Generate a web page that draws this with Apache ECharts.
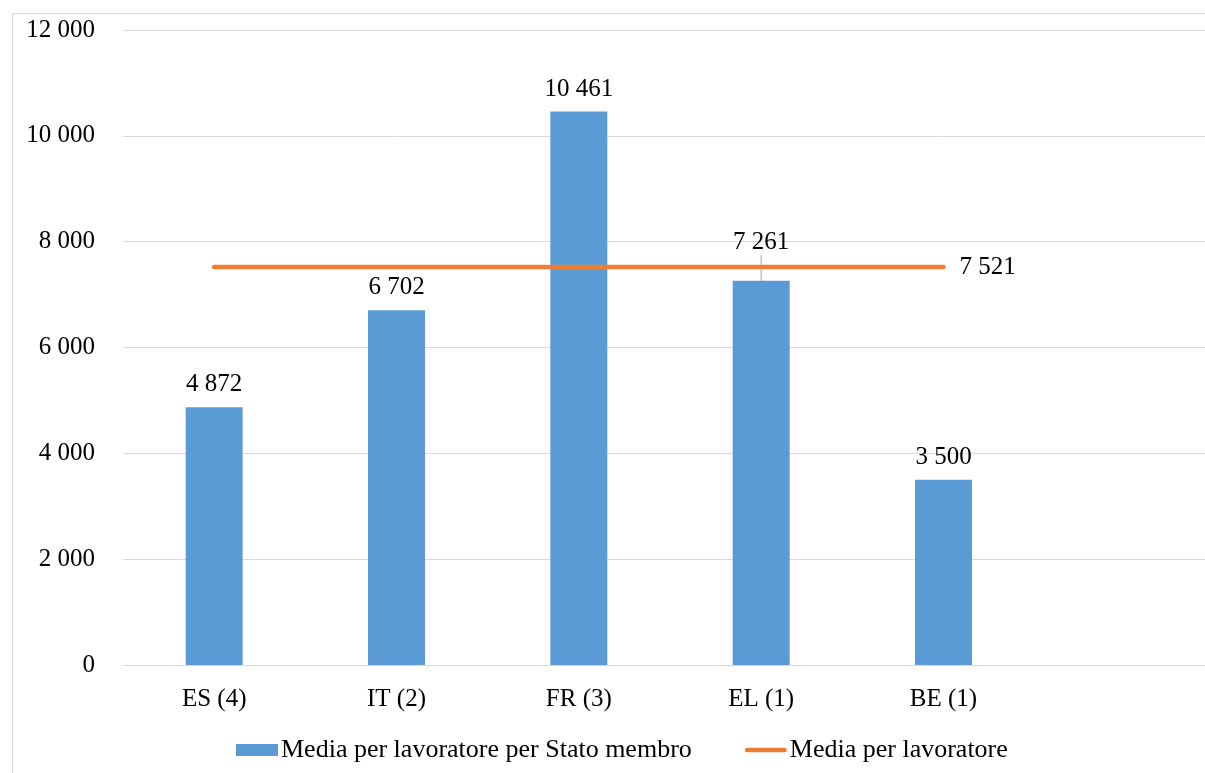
<!DOCTYPE html>
<html>
<head>
<meta charset="utf-8">
<script src="https://cdn.jsdelivr.net/npm/echarts@6/dist/echarts.min.js"></script>
<style>
  html, body { margin: 0; padding: 0; background: #fff; overflow: hidden; }
  #chart { width: 1217px; height: 773px; }
</style>
</head>
<body>
<div id="chart"></div>
<script>
// Member states (number of workers in brackets); the last slot is left empty
const categories = ['ES (4)', 'IT (2)', 'FR (3)', 'EL (1)', 'BE (1)', ''];
// Average per worker, by member state
const memberAvg = [4872, 6702, 10461, 7261, 3500];
// Overall average per worker
const overallAvg = [7521, 7521, 7521, 7521, 7521];
// Value axis
const yMin = 0;
const yMax = 12000;
const yStep = 2000;

const FONT = "'Liberation Serif', 'Times New Roman', serif";
const fmt = v => String(v).replace(/\B(?=(\d{3})+(?!\d))/g, ' ');

// EL label sits above the average line, tied to its bar by a leader line
const barData = memberAvg.map((v, i) => i === 3
  ? { value: v, labelLine: { show: true, lineStyle: { color: '#a6a6a6', width: 1 } } }
  : v);

const chart = echarts.init(document.getElementById('chart'), null, { renderer: 'canvas' });

chart.setOption({
  backgroundColor: '#ffffff',
  animation: false,
  textStyle: { fontFamily: FONT, color: '#000' },
  graphic: [{
    type: 'rect',
    left: 10, top: 11,
    shape: { width: 1230, height: 800 },
    style: { fill: 'none', stroke: '#d9d9d9', lineWidth: 1 },
    silent: true,
    z: -1
  }],
  grid: { left: 123, top: 30, right: 0, height: 635 },
  legend: {
    left: 231, top: 732,
    itemWidth: 42, itemHeight: 12, itemGap: 53,
    textStyle: { fontFamily: FONT, fontSize: 26, color: '#000', padding: [0, 0, 0, -2] },
    data: [
      { name: 'Media per lavoratore per Stato membro', icon: 'rect' },
      {
        name: 'Media per lavoratore',
        icon: 'path://M0,0 M46,12 M2.5,3.5 L43.5,3.5 A2.5,2.5 0 0 1 43.5,8.5 L2.5,8.5 A2.5,2.5 0 0 1 2.5,3.5 Z',
        itemStyle: { color: '#ed7d31' }
      }
    ]
  },
  xAxis: {
    type: 'category',
    data: categories,
    axisLine: { lineStyle: { color: '#d9d9d9', width: 1 } },
    axisTick: { show: false },
    axisLabel: { fontFamily: FONT, fontSize: 25, color: '#000', margin: 22, interval: 0 }
  },
  yAxis: {
    type: 'value',
    min: yMin, max: yMax, interval: yStep,
    axisLine: { show: false },
    axisTick: { show: false },
    splitLine: { lineStyle: { color: '#d9d9d9', width: 1 } },
    axisLabel: { fontFamily: FONT, fontSize: 25, color: '#000', margin: 28, formatter: fmt }
  },
  series: [
    {
      name: 'Media per lavoratore per Stato membro',
      type: 'bar',
      data: barData,
      barWidth: 57,
      itemStyle: { color: '#5b9bd5' },
      label: {
        show: true, position: 'top', distance: 10,
        fontFamily: FONT, fontSize: 25, color: '#000',
        formatter: p => fmt(p.value)
      },
      labelLayout: p => (p.dataIndex === 3 ? { dy: -16 } : {}),
      labelLine: { show: false },
      z: 2
    },
    {
      name: 'Media per lavoratore',
      type: 'line',
      data: overallAvg,
      symbol: 'none',
      lineStyle: { color: '#ed7d31', width: 4.5, cap: 'round' },
      itemStyle: { color: '#ed7d31' },
      endLabel: {
        show: true, distance: 16,
        fontFamily: FONT, fontSize: 25, color: '#000',
        formatter: p => fmt(p.value)
      },
      z: 3
    }
  ]
});
</script>
</body>
</html>
